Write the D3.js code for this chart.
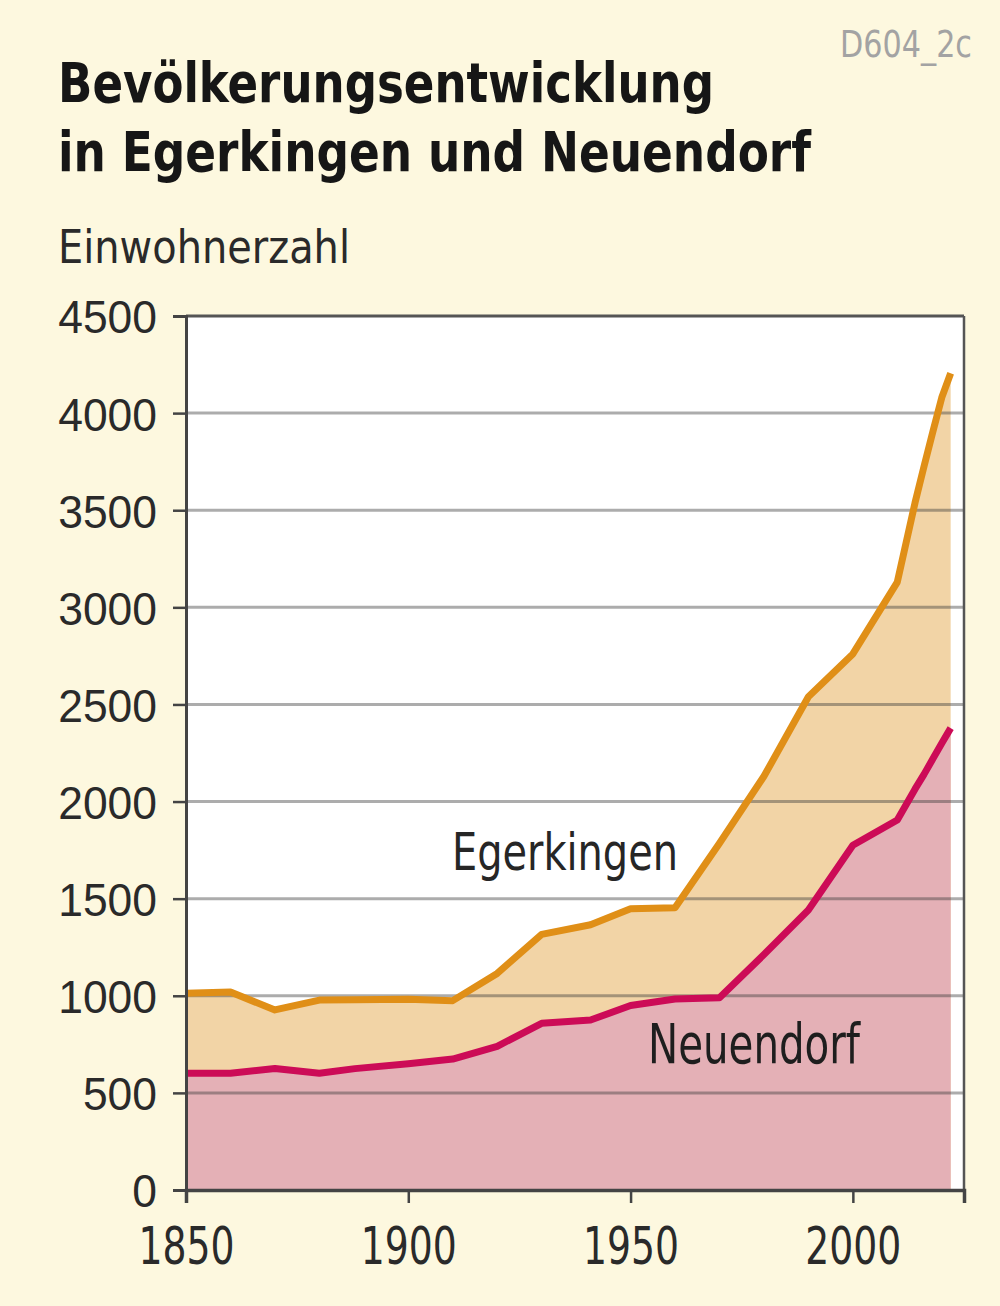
<!DOCTYPE html>
<html>
<head>
<meta charset="utf-8">
<script src="https://cdn.jsdelivr.net/npm/d3@7"></script>
<style>
  html, body { margin: 0; padding: 0; background: #fdf8df; }
  svg { display: block; }
</style>
</head>
<body>
<div id="plot"></div>
<script>
// census years and population
const years = [1850, 1860, 1870, 1880, 1888, 1900, 1910, 1920, 1930, 1941, 1950, 1960,
               1970, 1980, 1990, 2000, 2010, 2012, 2014, 2016, 2018, 2020, 2022];
const egerkingen = [1013, 1019, 927, 978, 980, 982, 975, 1115, 1316, 1366, 1448, 1453,
                    1785, 2130, 2540, 2760, 3130, 3335, 3540, 3725, 3905, 4080, 4205];
const neuendorf = [601, 601, 626, 601, 625, 650, 674, 740, 858, 875, 950, 983,
                   990, 1212, 1442, 1775, 1905, 1985, 2065, 2140, 2220, 2300, 2378];
const yTicks = [0, 500, 1000, 1500, 2000, 2500, 3000, 3500, 4000, 4500];
const xTicks = [1850, 1900, 1950, 2000];

const width = 1000, height = 1306;
const margin = { top: 316, bottom: 116, left: 186, right: 36 };
const condensed = "'Liberation Sans Narrow', 'DejaVu Sans Condensed', 'Roboto Condensed', sans-serif";

const rows = years.map((y, i) => ({ year: y, e: egerkingen[i], n: neuendorf[i] }));

let svg = d3.select('#plot')
  .append('svg')
    .attr('width', width)
    .attr('height', height);

svg.append('rect')
  .attr('width', width)
  .attr('height', height)
  .attr('fill', '#fdf8df');

let xScale = d3.scaleLinear()
  .domain([1850, 2025])
  .range([margin.left, width - margin.right]);

let yScale = d3.scaleLinear()
  .domain([0, 4500])
  .range([height - margin.bottom, margin.top]);

// white plot area
svg.append('rect')
  .attr('x', xScale(1850))
  .attr('y', yScale(4500))
  .attr('width', xScale(2025) - xScale(1850))
  .attr('height', yScale(0) - yScale(4500))
  .attr('fill', '#ffffff');

// filled areas
let areaE = d3.area().x(d => xScale(d.year)).y0(yScale(0)).y1(d => yScale(d.e));
let areaN = d3.area().x(d => xScale(d.year)).y0(yScale(0)).y1(d => yScale(d.n));

svg.append('path').datum(rows).attr('d', areaE).attr('fill', '#f2d4a6');
svg.append('path').datum(rows).attr('d', areaN).attr('fill', '#e4b0b6');

// grid lines
svg.append('g')
  .selectAll('line')
  .data(yTicks.filter(t => t > 0 && t < 4500))
  .enter()
  .append('line')
    .attr('x1', xScale(1850))
    .attr('x2', xScale(2025))
    .attr('y1', d => yScale(d))
    .attr('y2', d => yScale(d))
    .attr('stroke', '#3a3a3a')
    .attr('stroke-opacity', 0.42)
    .attr('stroke-width', 3);

// population lines
let lineE = d3.line().x(d => xScale(d.year)).y(d => yScale(d.e));
let lineN = d3.line().x(d => xScale(d.year)).y(d => yScale(d.n));

svg.append('path').datum(rows)
  .attr('d', lineE)
  .attr('fill', 'none')
  .attr('stroke', '#e08f17')
  .attr('stroke-width', 7)
  .attr('stroke-linejoin', 'round');

svg.append('path').datum(rows)
  .attr('d', lineN)
  .attr('fill', 'none')
  .attr('stroke', '#cc0b57')
  .attr('stroke-width', 7)
  .attr('stroke-linejoin', 'round');

// frame: top and right
svg.append('line')
  .attr('x1', xScale(1850)).attr('x2', xScale(2025))
  .attr('y1', yScale(4500)).attr('y2', yScale(4500))
  .attr('stroke', '#555').attr('stroke-width', 3);
svg.append('line')
  .attr('x1', xScale(2025)).attr('x2', xScale(2025))
  .attr('y1', yScale(4500)).attr('y2', yScale(0))
  .attr('stroke', '#555').attr('stroke-width', 2.5);

// y axis
let yAxis = svg.append('g')
  .attr('transform', `translate(${margin.left},0)`)
  .call(d3.axisLeft(yScale).tickValues(yTicks).tickFormat(d3.format('d')).tickSize(13).tickPadding(16));
yAxis.select('.domain').attr('stroke', '#444').attr('stroke-width', 3);
yAxis.selectAll('.tick line').attr('stroke', '#444').attr('stroke-width', 2.5);
yAxis.selectAll('.tick text')
  .attr('fill', '#2a2a2a')
  .attr('font-family', "'Liberation Sans', Arial, sans-serif")
  .attr('font-size', 47)
  .attr('dy', '0.36em')
  .attr('textLength', d => String(d).length * 24.7)
  .attr('lengthAdjust', 'spacingAndGlyphs');

// x axis
let xAxis = svg.append('g')
  .attr('transform', `translate(0,${yScale(0)})`)
  .call(d3.axisBottom(xScale).tickValues(xTicks).tickFormat(d3.format('d')).tickSize(13).tickPadding(24));
xAxis.select('.domain').attr('stroke', '#444').attr('stroke-width', 3.5);
xAxis.selectAll('.tick line').attr('stroke', '#444').attr('stroke-width', 2.5);
xAxis.selectAll('.tick text')
  .attr('fill', '#2a2a2a')
  .attr('font-family', condensed)
  .attr('font-size', 52)
  .attr('dy', '0.71em')
  .attr('textLength', 96)
  .attr('lengthAdjust', 'spacingAndGlyphs');

// titles and labels
function addText(txt, x, y, size, len, opts = {}) {
  svg.append('text')
    .attr('x', x)
    .attr('y', y)
    .attr('font-family', condensed)
    .attr('font-size', size)
    .attr('font-weight', opts.weight || 'normal')
    .attr('fill', opts.fill || '#1c1c1c')
    .attr('textLength', len)
    .attr('lengthAdjust', 'spacingAndGlyphs')
    .text(txt);
}

addText('Bevölkerungsentwicklung', 58, 102, 56, 656, { weight: 'bold', fill: '#161616' });
addText('in Egerkingen und Neuendorf', 58, 171, 56, 753, { weight: 'bold', fill: '#161616' });
addText('Einwohnerzahl', 58, 263, 46, 292, { fill: '#2a2a2a' });
addText('D604_2c', 840, 57, 37, 132, { fill: '#a3a3a3' });
addText('Egerkingen', 452, 870, 51, 226, { fill: '#262626' });
addText('Neuendorf', 648, 1063, 55, 212, { fill: '#1e1e1e' });
</script>
</body>
</html>
